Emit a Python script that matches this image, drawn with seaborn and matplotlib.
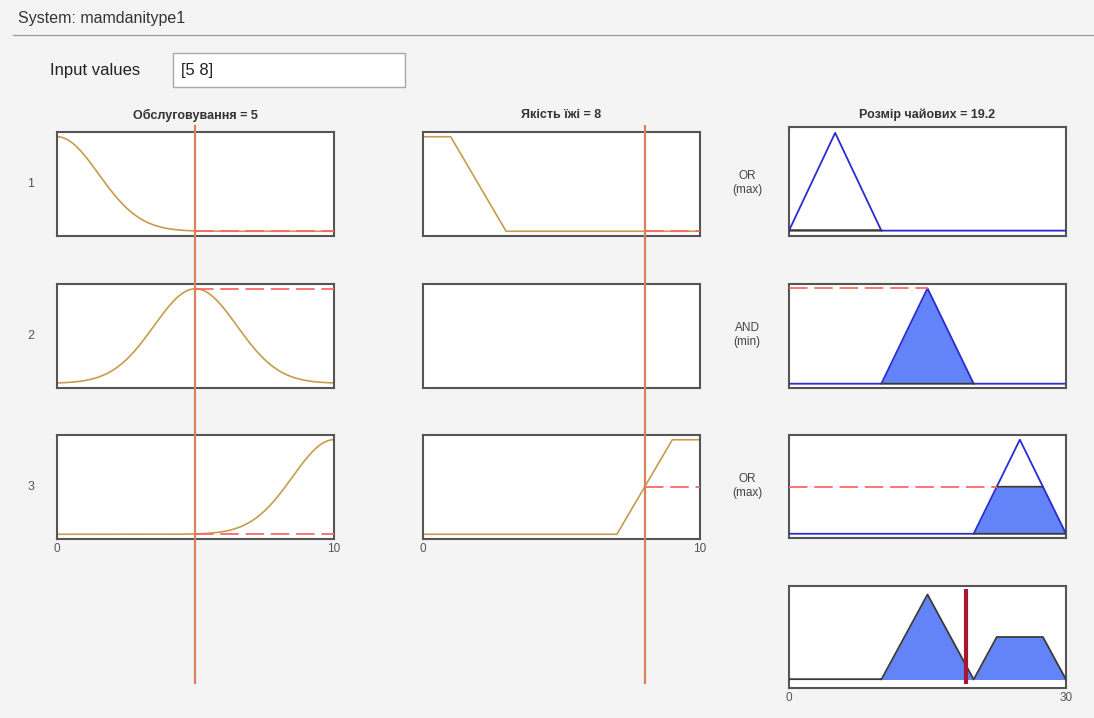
import numpy as np
import pandas as pd
import matplotlib
matplotlib.use("Agg")
import matplotlib.pyplot as plt
import seaborn as sns
from matplotlib.patches import Rectangle
from matplotlib.lines import Line2D

# ---- fuzzy system: names, ranges, inputs ----
system_name = "mamdanitype1"
input_names = ["Обслуговування", "Якість їжі"]
input_values = [5, 8]
input_range = [0, 10]
output_name = "Розмір чайових"
output_range = [0, 30]
output_value = 19.2
rule_labels = ["1", "2", "3"]
rule_ops = ["OR", "AND", "OR"]
rule_op_names = ["(max)", "(min)", "(max)"]

# membership functions used by each rule (None = input not used)
service_gauss = [(1.5, 0), (1.5, 5), (1.5, 10)]          # (sigma, centre)
food_trap = [(0, 0, 1, 3), None, (7, 9, 10, 10)]          # (a, b, c, d)
tip_tri = [(0, 5, 10), (10, 15, 20), (20, 25, 30)]        # (a, b, c)
input_ticks = ["0", "10"]
output_ticks = ["0", "30"]


def gaussmf(x, p):
    s, c = p
    return np.exp(-((x - c) ** 2) / (2 * s ** 2))


def trapmf(x, p):
    a, b, c, d = p
    x = np.asarray(x, dtype=float)
    up = np.where(x >= b, 1.0, (x - a) / (b - a) if b > a else (x >= a) * 1.0)
    down = np.where(x <= c, 1.0, (d - x) / (d - c) if d > c else (x <= d) * 1.0)
    return np.clip(np.minimum(up, down), 0, 1)


def trimf(x, p):
    a, b, c = p
    return trapmf(x, (a, b, b, c))


# ---- colours ----
BG = "#f4f4f4"
GOLD = "#c79c4c"
BLUE_LINE = "#2b2bcf"
BLUE_FILL = "#6383f8"
DARK = "#3a3a3a"
SPINE = "#555555"
RED_DASH = "#ff6464"
INPUT_LINE = "#d4835a"
OUT_LINE = "#a5182f"

plt.rcParams["font.family"] = ["Liberation Sans", "DejaVu Sans"]

W, H = 1094, 718
fig = plt.figure(figsize=(W / 100, H / 100), dpi=100, facecolor=BG)


def px_axes(left, top, width, height, **kw):
    return fig.add_axes([left / W, 1 - (top + height) / H, width / W, height / H], **kw)


def style_box(ax):
    ax.set_facecolor("white")
    for s in ax.spines.values():
        s.set_color(SPINE)
        s.set_linewidth(1.5)
    ax.set_xticks([])
    ax.set_yticks([])


def bottom_ticks(ax, rng, labels):
    ax.set_xticks(rng)
    ax.set_xticklabels(labels)
    ax.tick_params(axis="x", length=0, pad=3, labelsize=8.5, labelcolor="#555555")


DASH = (0, (9.5, 3.5))

# ---- layout (pixels) ----
col_left = [57, 423, 789]
col_w = 277
row_top = [132, 284, 435]
row_h = 104
out_tops = [127, 284, 435]
out_heights = [109, 104, 103]
out_ylims = [(-0.055, 1.06), (-0.045, 1.045), (-0.045, 1.05)]

xin = np.linspace(input_range[0], input_range[1], 801)
xout = np.linspace(output_range[0], output_range[1], 1201)

# ---- header ----
fig.text(18 / W, 1 - 18 / H, f"System: {system_name}", fontsize=11.5, color="#333333",
         ha="left", va="center")
fig.add_artist(Line2D([13 / W, 1.0], [1 - 35 / H, 1 - 35 / H], transform=fig.transFigure,
                      color="#9a9a9a", lw=0.9))
fig.text(50 / W, 1 - 71 / H, "Input values", fontsize=12, color="#222222", ha="left", va="center")
fig.add_artist(Rectangle((173 / W, 1 - 87 / H), 232 / W, 34 / H, transform=fig.transFigure,
                         facecolor="white", edgecolor="#a8a8a8", lw=1))
fig.text(181 / W, 1 - 70 / H, "[" + " ".join(f"{v:g}" for v in input_values) + "]",
         fontsize=12, color="#222222", ha="left", va="center")

# ---- column titles ----
titles = [f"{input_names[0]} = {input_values[0]:g}",
          f"{input_names[1]} = {input_values[1]:g}",
          f"{output_name} = {output_value:g}"]
for left, t in zip(col_left, titles):
    fig.text((left + col_w / 2) / W, 1 - 115 / H, t, fontsize=9, fontweight="bold",
             color="#333333", ha="center", va="center")

# ---- rules ----
aggregate = np.zeros_like(xout)
for r in range(3):
    degrees = []

    # service
    ax = px_axes(col_left[0], row_top[r], col_w, row_h)
    style_box(ax)
    ax.set_xlim(*input_range)
    ax.set_ylim(-0.05, 1.05)
    mf = gaussmf(xin, service_gauss[r])
    sns.lineplot(x=xin, y=mf, ax=ax, color=GOLD, lw=1.2, estimator=None, sort=False)
    deg = float(gaussmf(input_values[0], service_gauss[r]))
    degrees.append(deg)
    ax.plot([input_values[0], input_range[1]], [deg, deg], color=RED_DASH, lw=1.4,
            linestyle=DASH, alpha=0.9, zorder=5)
    if r == 2:
        bottom_ticks(ax, input_range, input_ticks)
    fig.text(31 / W, 1 - (row_top[r] + row_h / 2) / H, rule_labels[r], fontsize=9,
             color="#555555", ha="center", va="center")

    # food
    ax = px_axes(col_left[1], row_top[r], col_w, row_h)
    style_box(ax)
    ax.set_xlim(*input_range)
    ax.set_ylim(-0.05, 1.05)
    if food_trap[r] is not None:
        mf = trapmf(xin, food_trap[r])
        sns.lineplot(x=xin, y=mf, ax=ax, color=GOLD, lw=1.2, estimator=None, sort=False)
        deg = float(trapmf(np.array([input_values[1]]), food_trap[r])[0])
        degrees.append(deg)
        ax.plot([input_values[1], input_range[1]], [deg, deg], color=RED_DASH, lw=1.4,
                linestyle=DASH, alpha=0.9, zorder=5)
    if r == 2:
        bottom_ticks(ax, input_range, input_ticks)

    strength = max(degrees) if rule_ops[r] == "OR" else min(degrees)

    # operator label
    cy = (row_top[r] + row_h / 2) - 1
    fig.text(747 / W, 1 - (cy - 7) / H, rule_ops[r], fontsize=8.5, color="#444444",
             ha="center", va="center")
    fig.text(747 / W, 1 - (cy + 7) / H, rule_op_names[r], fontsize=8.5, color="#444444",
             ha="center", va="center")

    # consequent
    ax = px_axes(col_left[2], out_tops[r], col_w, out_heights[r])
    style_box(ax)
    ax.set_xlim(*output_range)
    ax.set_ylim(*out_ylims[r])
    mf = trimf(xout, tip_tri[r])
    clipped = np.minimum(mf, strength)
    aggregate = np.maximum(aggregate, clipped)
    ax.fill_between(xout, 0, clipped, where=mf > 0, color=BLUE_FILL, lw=0, zorder=2)
    sns.lineplot(x=xout, y=mf, ax=ax, color=BLUE_LINE, lw=1.3, estimator=None, sort=False,
                 zorder=3)
    support = np.where(mf > 0, 0.0, np.nan)
    support[np.argmax(mf > 0) - 1] = 0.0
    support[len(mf) - np.argmax(mf[::-1] > 0)] = 0.0 if mf[-1] == 0 else np.nan
    ax.plot(xout, support, color=DARK, lw=1.3, zorder=4)
    if strength < 0.999:
        top = np.where(mf >= strength, strength, np.nan)
        ax.plot(xout, top, color=DARK, lw=1.3, zorder=4)
    x_cut = xout[np.argmax(mf >= strength - 1e-9)]
    ax.plot([output_range[0], x_cut], [strength, strength], color=RED_DASH, lw=1.4,
            linestyle=DASH, alpha=0.9, zorder=5)

# ---- aggregated output ----
ax = px_axes(col_left[2], 586, col_w, 102)
style_box(ax)
ax.set_xlim(*output_range)
ax.set_ylim(-0.1, 1.1)
ax.fill_between(xout, 0, aggregate, color=BLUE_FILL, lw=0, zorder=2)
sns.lineplot(x=xout, y=aggregate, ax=ax, color=DARK, lw=1.3, estimator=None, sort=False,
             zorder=3)
ax.axvline(output_value, ymin=0.04, ymax=0.97, color=OUT_LINE, lw=3, zorder=5,
           solid_capstyle="butt")
bottom_ticks(ax, output_range, output_ticks)

# ---- input cursors spanning all rule rows ----
for c in range(2):
    ov = px_axes(col_left[c], 125, col_w, 684 - 125)
    ov.set_xlim(*input_range)
    ov.set_ylim(0, 1)
    ov.axis("off")
    ov.patch.set_alpha(0)
    ov.axvline(input_values[c], color=INPUT_LINE, lw=1.6, zorder=10)

fig.savefig("out.png", dpi=100, facecolor=BG)
